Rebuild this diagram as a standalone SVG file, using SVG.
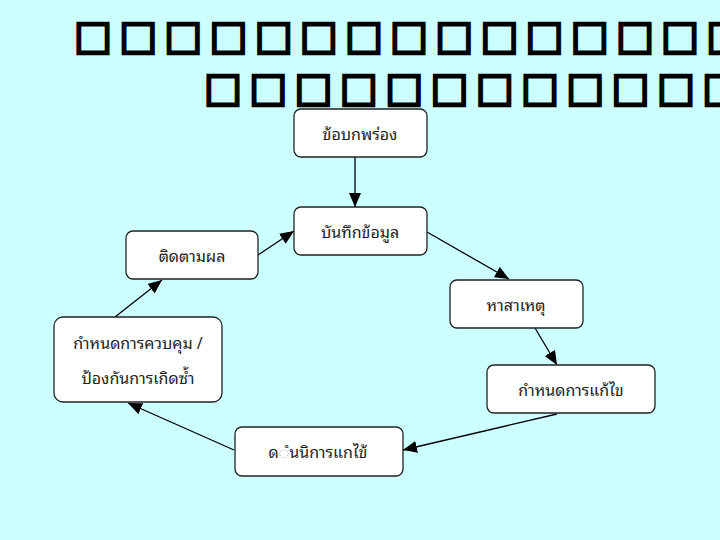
<svg xmlns="http://www.w3.org/2000/svg" width="720" height="540" viewBox="0 0 720 540">
<defs>
<marker id="ah" viewBox="0 0 14 12" refX="14" refY="6" markerWidth="14" markerHeight="12" markerUnits="userSpaceOnUse" orient="auto">
<path d="M0,0 L14,6 L0,12 Z" fill="#000"/>
</marker>
<style>
.box{fill:#fff;stroke:#222;stroke-width:1.3}
.lbl{font-family:"Noto Sans Thai Looped","Noto Sans Thai","Noto Sans","DejaVu Sans",sans-serif;font-size:16px;fill:#222;text-anchor:middle;dominant-baseline:central}
.ttl{font-family:"DejaVu Sans",sans-serif;font-size:40px;font-weight:bold;fill:#000;stroke:#000;stroke-width:2.6}
.con{stroke:#000;stroke-width:1.3;fill:none;marker-end:url(#ah)}
</style>
</defs>
<rect width="720" height="540" fill="#ccffff"/>
<g id="title">
<text class="ttl" x="74" y="49" textLength="670" lengthAdjust="spacing">□□□□□□□□□□□□□□□</text>
<text class="ttl" x="204" y="101" textLength="536" lengthAdjust="spacing">□□□□□□□□□□□□</text>
</g>
<g id="connectors">
<line class="con" x1="355" y1="157" x2="355" y2="207"/>
<line class="con" x1="427" y1="232" x2="509" y2="279"/>
<line class="con" x1="535" y1="328" x2="557" y2="365"/>
<line class="con" x1="557" y1="414" x2="403" y2="450"/>
<line class="con" x1="234" y1="450" x2="128" y2="403"/>
<line class="con" x1="115" y1="317" x2="162" y2="280"/>
<line class="con" x1="258" y1="255" x2="294" y2="231"/>
</g>
<g id="n1"><rect class="box" x="294" y="109" width="133" height="48" rx="7"/><text class="lbl" x="360" y="133">ข้อบกพร่อง</text></g>
<g id="n2"><rect class="box" x="294" y="207" width="133" height="48" rx="7"/><text class="lbl" x="360" y="231">บันทึกข้อมูล</text></g>
<g id="n3"><rect class="box" x="450" y="280" width="133" height="48" rx="7"/><text class="lbl" x="516" y="304">หาสาเหตุ</text></g>
<g id="n4"><rect class="box" x="487" y="365" width="168" height="48" rx="7"/><text class="lbl" x="571" y="389">กำหนดการแก้ไข</text></g>
<g id="n5"><rect class="box" x="235" y="427" width="168" height="49" rx="7"/><text class="lbl" x="318" y="451">ด◌ํนนิการแกไข้</text></g>
<g id="n6"><rect class="box" x="54" y="317" width="168" height="85" rx="9"/><text class="lbl" x="138" y="342">กำหนดการควบคุม /</text><text class="lbl" x="138" y="377">ป้องกันการเกิดซ้ำ</text></g>
<g id="n7"><rect class="box" x="126" y="231" width="132" height="48" rx="7"/><text class="lbl" x="192" y="255">ติดตามผล</text></g>
</svg>
